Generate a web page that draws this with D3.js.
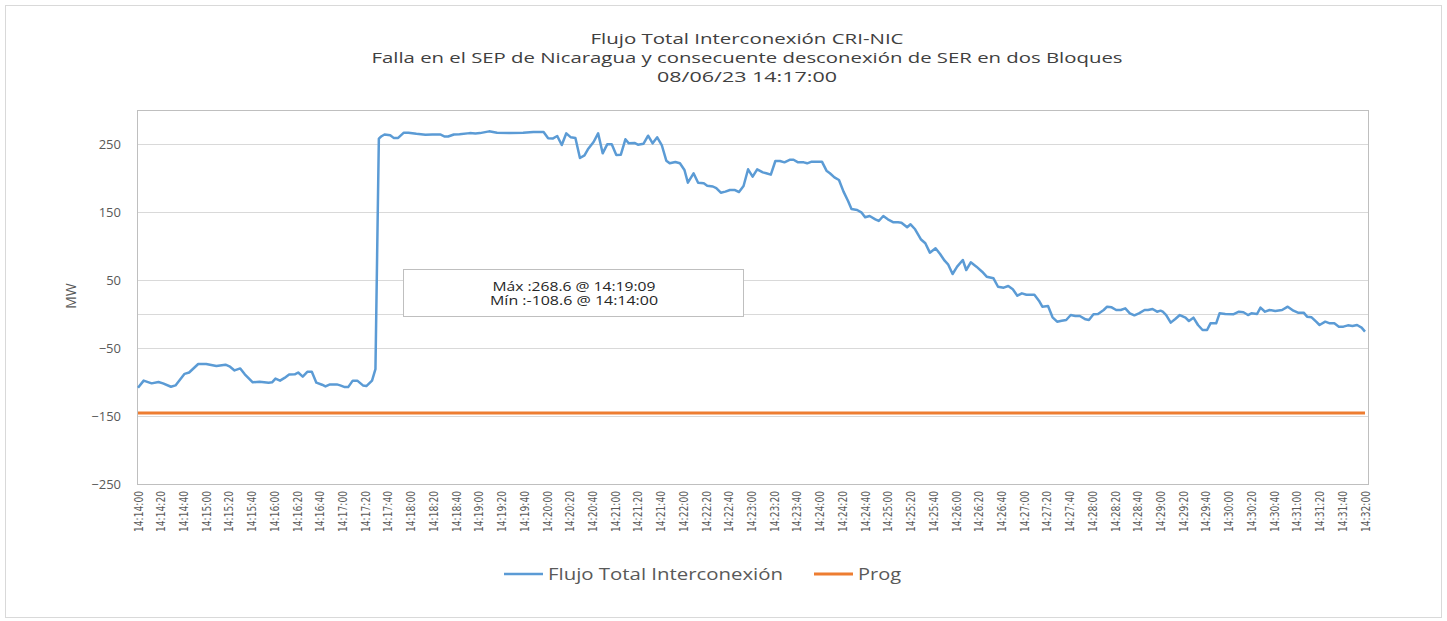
<!DOCTYPE html>
<html>
<head>
<meta charset="utf-8">
<script src="https://cdn.jsdelivr.net/npm/d3@7"></script>
<style>
  html, body { margin: 0; padding: 0; background: #fff; }
  svg { display: block; }
</style>
</head>
<body>
<div id="chart"></div>
<script>
(function () {
  'use strict';

  var TITLE = [
    'Flujo Total Interconexión CRI-NIC',
    'Falla en el SEP de Nicaragua y consecuente desconexión de SER en dos Bloques',
    '08/06/23 14:17:00'
  ];
  var NOTE = ['Máx :268.6 @ 14:19:09', 'Mín :-108.6 @ 14:14:00'];
  var SERIES = ['Flujo Total Interconexión', 'Prog'];

  /* seconds after 14:14:00 */
  var segundos = [
    0, 5, 12, 18, 22, 29, 33, 41, 45, 53, 60, 69, 77, 81, 85, 90, 94, 101, 107, 115,
    118, 121, 125, 129, 133, 138, 141, 145, 149, 153, 157, 162, 165, 169, 175, 178, 182, 185, 189, 193,
    198, 201, 206, 209, 212, 214, 217, 222, 225, 229, 234, 238, 245, 253, 259, 266, 270, 273, 278, 283,
    292, 297, 301, 309, 316, 327, 339, 348, 357, 361, 365, 369, 373, 377, 381, 385, 389, 393, 396, 401,
    405, 409, 413, 417, 421, 425, 429, 432, 437, 440, 445, 449, 453, 457, 461, 465, 468, 473, 477, 481,
    484, 489, 493, 498, 501, 506, 509, 513, 517, 521, 525, 529, 533, 537, 541, 545, 550, 553, 557, 561,
    565, 569, 574, 577, 581, 586, 589, 593, 602, 606, 609, 613, 617, 621, 625, 628, 633, 637, 640, 644,
    649, 652, 656, 660, 665, 669, 672, 677, 680, 684, 689, 693, 697, 702, 706, 710, 713, 717, 721, 726,
    729, 733, 738, 743, 747, 753, 757, 762, 766, 770, 774, 778, 782, 789, 793, 796, 801, 805, 809, 813,
    817, 821, 825, 829, 834, 837, 841, 845, 850, 853, 857, 861, 865, 869, 873, 877, 881, 886, 889, 893,
    897, 900, 902, 905, 909, 913, 917, 922, 925, 929, 933, 937, 941, 944, 949, 952, 957, 964, 969, 973,
    977, 980, 985, 988, 992, 996, 1001, 1007, 1012, 1017, 1021, 1026, 1029, 1033, 1037, 1040, 1045, 1049, 1053, 1057,
    1061, 1065, 1069, 1073, 1077, 1080
  ];

  var flujo = [
    -108.6, -98, -102, -100, -102, -107, -105, -88, -86, -73.5, -73.5, -76.5, -74.5, -77.5, -83, -80, -88.7, -100.5, -99.5, -101,
    -100.5, -95, -98, -94, -89, -88.7, -86, -92, -85, -85, -101, -104, -106.5, -103.5, -103.5, -105, -107.5, -107.5, -98, -98,
    -105, -106, -98, -81, 258, 261, 264, 263, 259, 259, 266.7, 266.7, 265, 263.7, 264, 264, 261, 261, 264, 264.5,
    266, 265.5, 266, 268.6, 266.5, 266, 266.5, 267.8, 267.5, 258.3, 258, 261.8, 248.5, 265.7, 259.8, 258.8, 229.4, 233.3, 242.2, 253,
    265.7, 236.3, 249.5, 249.5, 233.8, 234.3, 256.9, 251, 251.5, 249, 250.4, 262.2, 251, 259.8, 248.5, 225.5, 221.6, 223.5, 221.6, 211.8,
    193.1, 206.9, 193.1, 192.2, 188.7, 187.5, 185, 178.4, 180, 182.4, 182.4, 179.4, 188.2, 212.8, 202, 212.8, 208.3, 207, 205, 225,
    225, 223, 226.9, 226.9, 223, 223, 221.6, 224, 224, 210.8, 207, 201, 197, 180, 166.2, 154.4, 153, 149, 142.2, 144.1,
    139.2, 136.8, 144.1, 139.2, 134.8, 134.8, 134.3, 127.5, 131.9, 124.6, 110, 104, 90.2, 96.6, 88.2, 78.4, 73.1, 58.8, 69.6, 79.4,
    64.7, 76, 69.6, 62.2, 54.9, 52.5, 40.1, 38.7, 41.2, 36.3, 26.9, 30.4, 28.4, 28.4, 19.6, 10.8, 11.8, -4.9, -11.3, -9.8,
    -8.8, -1.5, -2.9, -2.9, -7.8, -8.8, -0.5, 0, 5.9, 10.8, 9.8, 5.9, 5.9, 8.3, 1, -2, 1, 5.9, 5.9, 7.4,
    3.4, 4.9, 3.4, -1.5, -12.7, -7.4, -1.5, -5.4, -10.3, -5.4, -16.2, -23.5, -23.5, -13.7, -13.7, 1, 0, -0.5, 3.4, 2.5,
    -1.5, 1, 0, 9.3, 3.4, 5.9, 4.4, 5.9, 10.8, 4.9, 2, 2, -3.9, -4.9, -11.3, -16.2, -11.3, -13.7, -13.7, -18.6,
    -18.6, -16.7, -17.6, -16.2, -20.1, -26
  ];

  var progSegundos = [0, 1080];
  var prog = [-145.6, -145.6];

  var yTicks = [-250, -150, -50, 50, 150, 250];
  var xTickStep = 20;
  var startSec = 14 * 3600 + 14 * 60;

  var COLORS = {
    FLUJO: '#5b9bd5',
    PROG: '#ed7d31',
    GRID: '#d9d9d9',
    TEXT: '#595959'
  };

  var width = 1447;
  var height = 621;
  var plot = { left: 137, right: 1368, top: 110, bottom: 484 };

  var svg = d3.select('#chart').append('svg')
    .attr('width', width)
    .attr('height', height)
    .style('font-family', '"Open Sans", "Noto Sans", sans-serif');

  // chart frame
  svg.append('rect')
    .attr('x', 5.5).attr('y', 5.5)
    .attr('width', width - 11).attr('height', height - 9)
    .attr('fill', '#fff')
    .attr('stroke', '#d9d9d9');

  var x = d3.scaleLinear().domain([0, 1080]).range([138, 1365]);
  var y = d3.scaleLinear().domain([-250, 300]).range([plot.bottom, plot.top]);

  function fmtTime(s) {
    var t = startSec + s;
    var h = Math.floor(t / 3600);
    var m = Math.floor((t % 3600) / 60);
    var sec = t % 60;
    return h + ':' + d3.format('02')(m) + ':' + d3.format('02')(sec);
  }

  /* title */
  var titleY = [44, 63, 82];
  var titleLen = [313, 751, 180];
  svg.append('g').selectAll('text')
    .data(TITLE)
    .enter().append('text')
    .attr('x', 747)
    .attr('y', function (d, i) { return titleY[i]; })
    .attr('text-anchor', 'middle')
    .attr('font-size', 14)
    .attr('fill', '#404040')
    .attr('textLength', function (d, i) { return titleLen[i]; })
    .attr('lengthAdjust', 'spacingAndGlyphs')
    .text(function (d) { return d; });

  /* gridlines */
  svg.append('g').selectAll('line')
    .data(yTicks.concat([0]))
    .enter().append('line')
    .attr('x1', plot.left).attr('x2', plot.right)
    .attr('y1', function (d) { return Math.round(y(d)) + 0.5; })
    .attr('y2', function (d) { return Math.round(y(d)) + 0.5; })
    .attr('stroke', COLORS.GRID)
    .attr('stroke-width', 1);

  // plot area border
  svg.append('rect')
    .attr('x', plot.left + 0.5).attr('y', plot.top + 0.5)
    .attr('width', plot.right - plot.left).attr('height', plot.bottom - plot.top)
    .attr('fill', 'none')
    .attr('stroke', '#bfbfbf');

  /* y axis */
  var yAxis = d3.axisLeft(y).tickValues(yTicks).tickSize(0).tickPadding(0);
  var gy = svg.append('g')
    .attr('transform', 'translate(121,0)')
    .call(yAxis);
  gy.select('.domain').remove();
  gy.selectAll('text')
    .attr('font-size', 13)
    .attr('font-family', '"Open Sans", sans-serif')
    .attr('fill', COLORS.TEXT);

  svg.append('text')
    .attr('transform', 'translate(76,296) rotate(-90)')
    .attr('text-anchor', 'middle')
    .attr('font-size', 14)
    .attr('fill', COLORS.TEXT)
    .text('MW');

  /* x axis */
  var xAxis = d3.axisBottom(x)
    .tickValues(d3.range(0, 1081, xTickStep))
    .tickSize(0)
    .tickFormat(fmtTime);
  var gx = svg.append('g')
    .attr('transform', 'translate(0,' + plot.bottom + ')')
    .call(xAxis);
  gx.select('.domain').remove();
  gx.selectAll('text')
    .attr('font-size', 11.5)
    .attr('font-family', '"DejaVu Sans Condensed", "DejaVu Sans", sans-serif')
    .attr('fill', COLORS.TEXT)
    .attr('text-anchor', 'end')
    .attr('dy', null)
    .attr('y', 0)
    .attr('transform', 'translate(4,7) rotate(-90)')
    .attr('textLength', 41)
    .attr('lengthAdjust', 'spacingAndGlyphs');

  /* series */
  var flujoData = segundos.map(function (s, i) { return [s, flujo[i]]; });
  var progData = progSegundos.map(function (s, i) { return [s, prog[i]]; });
  var line = d3.line()
    .x(function (d) { return x(d[0]); })
    .y(function (d) { return y(d[1]); });

  svg.append('path')
    .datum(progData)
    .attr('d', line)
    .attr('fill', 'none')
    .attr('stroke', COLORS.PROG)
    .attr('stroke-width', 3);

  svg.append('path')
    .datum(flujoData)
    .attr('d', line)
    .attr('fill', 'none')
    .attr('stroke', COLORS.FLUJO)
    .attr('stroke-width', 2.5)
    .attr('stroke-linejoin', 'round');

  /* max / min note */
  var noteLen = [163, 168];
  var note = svg.append('g');
  note.append('rect')
    .attr('x', 403.5).attr('y', 269.5)
    .attr('width', 340).attr('height', 47)
    .attr('fill', '#fff')
    .attr('stroke', '#bfbfbf');
  note.selectAll('text')
    .data(NOTE)
    .enter().append('text')
    .attr('x', 574)
    .attr('y', function (d, i) { return 290.5 + i * 14.5; })
    .attr('text-anchor', 'middle')
    .attr('font-size', 12.5)
    .attr('fill', '#262626')
    .attr('textLength', function (d, i) { return noteLen[i]; })
    .attr('lengthAdjust', 'spacingAndGlyphs')
    .text(function (d) { return d; });

  /* legend */
  var legendX = [504, 814];
  var legendLen = [235, 43];
  var legendColors = [COLORS.FLUJO, COLORS.PROG];
  var lg = svg.append('g').selectAll('g')
    .data(SERIES)
    .enter().append('g')
    .attr('transform', function (d, i) { return 'translate(' + legendX[i] + ',574)'; });
  lg.append('line')
    .attr('x1', 0).attr('x2', 39)
    .attr('stroke', function (d, i) { return legendColors[i]; })
    .attr('stroke-width', function (d, i) { return i === 0 ? 2.5 : 3; });
  lg.append('text')
    .attr('x', 44)
    .attr('y', 5.5)
    .attr('font-size', 16)
    .attr('fill', COLORS.TEXT)
    .attr('textLength', function (d, i) { return legendLen[i]; })
    .attr('lengthAdjust', 'spacingAndGlyphs')
    .text(function (d) { return d; });
}());
</script>
</body>
</html>
